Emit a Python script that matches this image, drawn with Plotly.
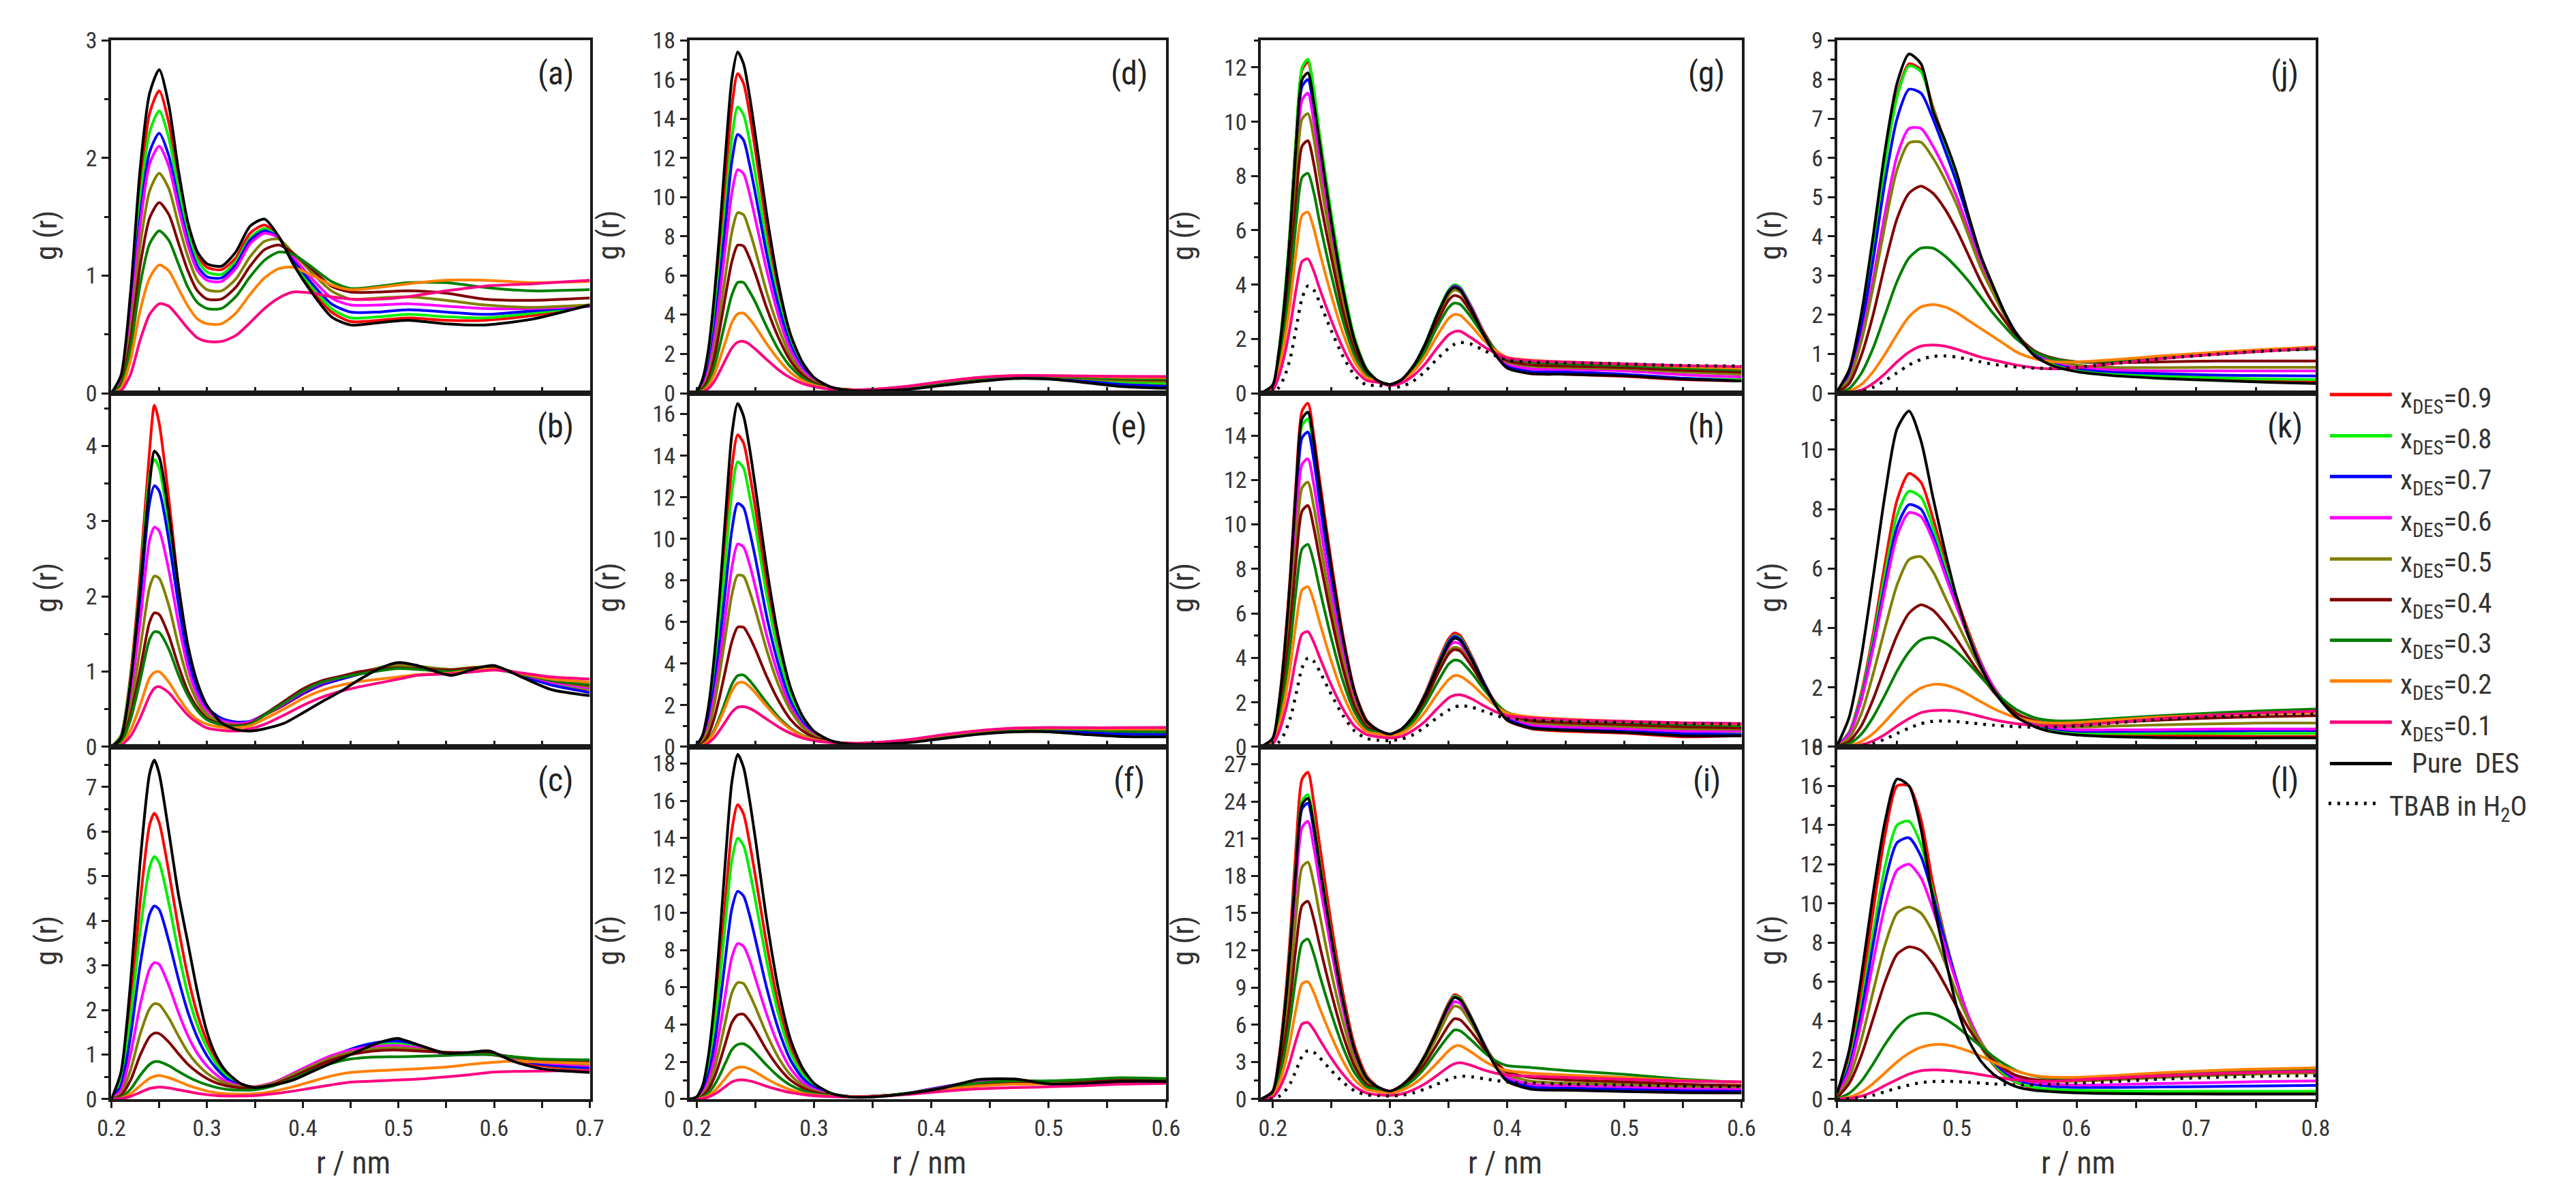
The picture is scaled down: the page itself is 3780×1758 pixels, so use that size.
import plotly.graph_objects as go

# ---------------- data ----------------
SERIES_NAMES = ["x<sub>DES</sub>=0.9", "x<sub>DES</sub>=0.8", "x<sub>DES</sub>=0.7",
                "x<sub>DES</sub>=0.6", "x<sub>DES</sub>=0.5", "x<sub>DES</sub>=0.4",
                "x<sub>DES</sub>=0.3", "x<sub>DES</sub>=0.2", "x<sub>DES</sub>=0.1",
                "Pure\u00a0 DES", "TBAB in H<sub>2</sub>O"]
SERIES_COLORS = ["#ff0000", "#00ee00", "#0000ff", "#ff00ff", "#808000", "#800000",
                 "#007f00", "#ff8000", "#ff0080", "#000000", "#000000"]

# panel (a)
R_A = [0.20, 0.21, 0.22, 0.23, 0.24, 0.25, 0.26, 0.27, 0.28, 0.29, 0.30, 0.315, 0.33, 0.345, 0.36,
       0.375, 0.39, 0.41, 0.43, 0.45, 0.48, 0.51, 0.55, 0.59, 0.64, 0.70]
A_09 = [0, 0.12, 0.75, 1.75, 2.38, 2.57, 2.3, 1.82, 1.42, 1.17, 1.07, 1.05, 1.15, 1.36, 1.43, 1.33, 1.1, 0.87, 0.69, 0.61, 0.62, 0.64, 0.62, 0.62, 0.66, 0.75]
A_08 = [0, 0.11, 0.7, 1.62, 2.22, 2.40, 2.17, 1.74, 1.37, 1.13, 1.03, 1.01, 1.12, 1.32, 1.40, 1.32, 1.12, 0.9, 0.72, 0.64, 0.65, 0.67, 0.65, 0.64, 0.68, 0.74]
A_07 = [0, 0.1, 0.65, 1.5, 2.05, 2.21, 2.02, 1.64, 1.3, 1.08, 0.99, 0.98, 1.09, 1.3, 1.38, 1.32, 1.14, 0.93, 0.76, 0.69, 0.69, 0.71, 0.69, 0.67, 0.7, 0.74]
A_06 = [0, 0.09, 0.6, 1.42, 1.95, 2.10, 1.93, 1.58, 1.26, 1.04, 0.96, 0.95, 1.06, 1.27, 1.36, 1.32, 1.16, 0.97, 0.81, 0.75, 0.75, 0.76, 0.74, 0.72, 0.72, 0.74]
A_05 = [0, 0.08, 0.52, 1.25, 1.72, 1.87, 1.74, 1.44, 1.16, 0.96, 0.88, 0.87, 0.97, 1.16, 1.29, 1.31, 1.19, 1.02, 0.87, 0.8, 0.81, 0.82, 0.79, 0.75, 0.73, 0.75]
A_04 = [0, 0.07, 0.45, 1.08, 1.49, 1.62, 1.52, 1.28, 1.04, 0.87, 0.80, 0.80, 0.9, 1.08, 1.22, 1.26, 1.19, 1.05, 0.91, 0.86, 0.86, 0.87, 0.85, 0.8, 0.79, 0.81]
A_03 = [0, 0.06, 0.38, 0.92, 1.27, 1.38, 1.3, 1.1, 0.9, 0.77, 0.72, 0.72, 0.82, 0.99, 1.13, 1.2, 1.18, 1.07, 0.95, 0.89, 0.91, 0.94, 0.94, 0.9, 0.87, 0.88]
A_02 = [0, 0.04, 0.28, 0.7, 0.98, 1.09, 1.04, 0.89, 0.74, 0.63, 0.59, 0.59, 0.68, 0.84, 0.98, 1.06, 1.07, 1.0, 0.92, 0.88, 0.9, 0.93, 0.96, 0.96, 0.94, 0.95]
A_01 = [0, 0.02, 0.16, 0.45, 0.67, 0.76, 0.74, 0.65, 0.55, 0.47, 0.44, 0.44, 0.49, 0.6, 0.72, 0.81, 0.86, 0.85, 0.82, 0.8, 0.8, 0.82, 0.87, 0.91, 0.93, 0.96]
A_PURE = [0, 0.15, 0.85, 1.9, 2.55, 2.75, 2.45, 1.9, 1.45, 1.2, 1.1, 1.08, 1.2, 1.42, 1.48, 1.33, 1.1, 0.85, 0.65, 0.58, 0.6, 0.62, 0.59, 0.58, 0.63, 0.75]

# panel (b)
R_B = [0.20, 0.21, 0.22, 0.23, 0.24, 0.245, 0.25, 0.26, 0.27, 0.28, 0.29, 0.30, 0.315, 0.33, 0.345,
       0.36, 0.38, 0.40, 0.42, 0.44, 0.46, 0.48, 0.50, 0.52, 0.555, 0.58, 0.60, 0.63, 0.66, 0.70]
B_09 = [0, 0.15, 0.95, 2.3, 3.95, 4.54, 4.3, 3.3, 2.15, 1.25, 0.75, 0.5, 0.36, 0.3, 0.32, 0.42, 0.55, 0.7, 0.82, 0.9, 0.97, 1.03, 1.07, 1.04, 0.99, 1.03, 1.05, 0.95, 0.84, 0.76]
B_08 = [0, 0.14, 0.9, 2.15, 3.6, 3.82, 3.7, 2.95, 2.0, 1.2, 0.74, 0.5, 0.36, 0.31, 0.33, 0.43, 0.57, 0.72, 0.84, 0.91, 0.98, 1.05, 1.1, 1.05, 0.99, 1.03, 1.04, 0.95, 0.85, 0.77]
B_07 = [0, 0.12, 0.8, 1.95, 3.25, 3.47, 3.4, 2.75, 1.9, 1.18, 0.75, 0.52, 0.38, 0.33, 0.34, 0.43, 0.56, 0.71, 0.83, 0.9, 0.97, 1.03, 1.07, 1.04, 0.99, 1.03, 1.05, 0.94, 0.82, 0.72]
B_06 = [0, 0.1, 0.68, 1.65, 2.75, 2.92, 2.87, 2.35, 1.65, 1.05, 0.68, 0.48, 0.35, 0.31, 0.33, 0.43, 0.57, 0.73, 0.85, 0.92, 0.99, 1.05, 1.1, 1.05, 1.0, 1.04, 1.05, 0.96, 0.86, 0.78]
B_05 = [0, 0.08, 0.53, 1.3, 2.12, 2.27, 2.24, 1.88, 1.35, 0.9, 0.6, 0.43, 0.32, 0.29, 0.31, 0.42, 0.58, 0.75, 0.87, 0.93, 0.99, 1.05, 1.08, 1.07, 1.03, 1.06, 1.05, 0.97, 0.88, 0.8]
B_04 = [0, 0.06, 0.42, 1.02, 1.66, 1.78, 1.76, 1.48, 1.08, 0.74, 0.52, 0.38, 0.3, 0.28, 0.31, 0.43, 0.6, 0.77, 0.88, 0.94, 1.0, 1.03, 1.05, 1.04, 1.02, 1.05, 1.04, 0.97, 0.88, 0.82]
B_03 = [0, 0.05, 0.36, 0.88, 1.43, 1.53, 1.52, 1.3, 0.96, 0.68, 0.48, 0.36, 0.29, 0.27, 0.3, 0.42, 0.58, 0.74, 0.86, 0.92, 0.97, 1.01, 1.04, 1.03, 1.0, 1.03, 1.03, 0.96, 0.88, 0.83]
B_02 = [0, 0.03, 0.22, 0.55, 0.92, 0.99, 1.0, 0.86, 0.66, 0.48, 0.36, 0.3, 0.26, 0.25, 0.28, 0.37, 0.5, 0.64, 0.75, 0.82, 0.87, 0.9, 0.93, 0.96, 0.98, 1.02, 1.03, 0.97, 0.9, 0.86]
B_01 = [0, 0.02, 0.14, 0.38, 0.68, 0.78, 0.8, 0.72, 0.57, 0.42, 0.32, 0.25, 0.22, 0.21, 0.24, 0.3, 0.42, 0.55, 0.66, 0.74, 0.8, 0.85, 0.9, 0.95, 0.97, 1.0, 1.02, 0.98, 0.93, 0.9]
B_PURE = [0, 0.12, 0.85, 2.1, 3.5, 3.93, 3.85, 3.1, 2.15, 1.35, 0.85, 0.55, 0.32, 0.23, 0.21, 0.24, 0.31, 0.45, 0.6, 0.74, 0.9, 1.04, 1.12, 1.08, 0.95, 1.04, 1.08, 0.92, 0.76, 0.68]

# panel (c)
R_C = [0.20, 0.21, 0.22, 0.23, 0.24, 0.245, 0.25, 0.26, 0.27, 0.28, 0.29, 0.30, 0.31, 0.32, 0.335,
       0.35, 0.37, 0.39, 0.41, 0.43, 0.45, 0.47, 0.49, 0.50, 0.52, 0.55, 0.575, 0.595, 0.62, 0.65, 0.70]
C_09 = [0, 0.45, 2.1, 4.4, 6.15, 6.41, 6.2, 5.1, 3.85, 2.75, 1.9, 1.3, 0.88, 0.58, 0.34, 0.27, 0.34, 0.5, 0.68, 0.88, 1.08, 1.2, 1.27, 1.28, 1.22, 1.02, 1.03, 1.03, 0.88, 0.75, 0.65]
C_08 = [0, 0.4, 1.8, 3.75, 5.2, 5.44, 5.3, 4.4, 3.3, 2.35, 1.65, 1.15, 0.78, 0.53, 0.32, 0.27, 0.35, 0.52, 0.7, 0.9, 1.1, 1.2, 1.25, 1.25, 1.2, 1.02, 1.02, 1.02, 0.9, 0.78, 0.68]
C_07 = [0, 0.3, 1.4, 3.0, 4.15, 4.33, 4.25, 3.55, 2.7, 1.95, 1.38, 0.97, 0.68, 0.47, 0.3, 0.27, 0.36, 0.55, 0.75, 0.95, 1.12, 1.24, 1.3, 1.3, 1.22, 1.0, 1.03, 1.05, 0.9, 0.78, 0.7]
C_06 = [0, 0.2, 1.0, 2.1, 2.92, 3.06, 3.02, 2.55, 1.95, 1.42, 1.02, 0.74, 0.54, 0.4, 0.3, 0.28, 0.38, 0.58, 0.79, 0.98, 1.1, 1.17, 1.2, 1.2, 1.15, 1.02, 1.0, 1.0, 0.92, 0.82, 0.75]
C_05 = [0, 0.12, 0.65, 1.45, 2.03, 2.14, 2.12, 1.82, 1.42, 1.05, 0.78, 0.58, 0.44, 0.35, 0.28, 0.27, 0.36, 0.55, 0.75, 0.93, 1.05, 1.12, 1.15, 1.15, 1.12, 1.05, 1.02, 1.0, 0.93, 0.85, 0.78]
C_04 = [0, 0.08, 0.42, 0.98, 1.4, 1.48, 1.47, 1.28, 1.02, 0.78, 0.6, 0.46, 0.36, 0.3, 0.25, 0.25, 0.33, 0.5, 0.7, 0.88, 1.0, 1.07, 1.1, 1.1, 1.08, 1.05, 1.04, 1.02, 0.95, 0.88, 0.85]
C_03 = [0, 0.04, 0.22, 0.53, 0.78, 0.84, 0.84, 0.75, 0.62, 0.5, 0.4, 0.32, 0.26, 0.22, 0.2, 0.21, 0.3, 0.46, 0.64, 0.8, 0.9, 0.94, 0.95, 0.95, 0.96, 0.98, 1.0, 1.0, 0.95, 0.9, 0.88]
C_02 = [0, 0.02, 0.12, 0.3, 0.47, 0.51, 0.53, 0.48, 0.4, 0.31, 0.24, 0.18, 0.14, 0.12, 0.11, 0.12, 0.18, 0.28, 0.4, 0.52, 0.6, 0.63, 0.65, 0.66, 0.68, 0.72, 0.78, 0.82, 0.85, 0.83, 0.8]
C_01 = [0, 0.01, 0.06, 0.15, 0.24, 0.26, 0.27, 0.25, 0.21, 0.17, 0.13, 0.1, 0.08, 0.07, 0.07, 0.08, 0.12, 0.18, 0.25, 0.32, 0.38, 0.4, 0.42, 0.43, 0.45, 0.5, 0.55, 0.6, 0.62, 0.63, 0.65]
C_PURE = [0, 0.6, 2.6, 5.3, 7.3, 7.6, 7.3, 6.0, 4.6, 3.5, 2.4, 1.5, 0.95, 0.62, 0.35, 0.26, 0.32, 0.43, 0.62, 0.81, 1.0, 1.19, 1.33, 1.36, 1.22, 1.03, 1.05, 1.08, 0.85, 0.68, 0.6]

# panels (d), (e), (f) share one r grid
R_DEF = [0.194, 0.20, 0.205, 0.21, 0.215, 0.22, 0.225, 0.23, 0.235, 0.24, 0.245, 0.25, 0.26, 0.27,
         0.28, 0.29, 0.30, 0.315, 0.33, 0.35, 0.38, 0.41, 0.44, 0.47, 0.50, 0.53, 0.56, 0.60]
D_09 = [0, 0.08, 0.5, 1.7, 4.0, 7.3, 11.0, 14.6, 16.3, 15.8, 14.3, 12.4, 8.4, 5.1, 2.8, 1.5, 0.75, 0.3, 0.15, 0.13, 0.22, 0.45, 0.65, 0.8, 0.78, 0.66, 0.52, 0.45]
D_08 = [0, 0.07, 0.45, 1.5, 3.6, 6.5, 9.8, 13.0, 14.6, 14.2, 12.9, 11.2, 7.6, 4.7, 2.6, 1.4, 0.72, 0.3, 0.16, 0.14, 0.24, 0.48, 0.68, 0.82, 0.8, 0.7, 0.58, 0.5]
D_07 = [0, 0.06, 0.4, 1.35, 3.2, 5.9, 8.9, 11.8, 13.2, 12.9, 11.7, 10.2, 7.0, 4.4, 2.45, 1.3, 0.68, 0.3, 0.16, 0.14, 0.24, 0.47, 0.66, 0.78, 0.76, 0.62, 0.45, 0.35]
D_06 = [0, 0.05, 0.33, 1.15, 2.75, 5.1, 7.7, 10.2, 11.4, 11.2, 10.2, 8.9, 6.2, 3.9, 2.2, 1.2, 0.65, 0.3, 0.18, 0.16, 0.28, 0.52, 0.72, 0.85, 0.85, 0.8, 0.78, 0.8]
D_05 = [0, 0.04, 0.27, 0.92, 2.2, 4.1, 6.2, 8.2, 9.2, 9.1, 8.3, 7.3, 5.1, 3.3, 1.9, 1.05, 0.58, 0.28, 0.18, 0.16, 0.28, 0.52, 0.72, 0.84, 0.84, 0.75, 0.65, 0.6]
D_04 = [0, 0.03, 0.22, 0.75, 1.8, 3.35, 5.1, 6.7, 7.55, 7.5, 6.9, 6.1, 4.3, 2.8, 1.65, 0.95, 0.53, 0.27, 0.18, 0.17, 0.3, 0.55, 0.75, 0.86, 0.86, 0.8, 0.72, 0.68]
D_03 = [0, 0.02, 0.16, 0.55, 1.35, 2.5, 3.8, 5.0, 5.65, 5.65, 5.2, 4.65, 3.35, 2.2, 1.35, 0.8, 0.47, 0.25, 0.18, 0.18, 0.3, 0.55, 0.74, 0.86, 0.86, 0.8, 0.74, 0.72]
D_02 = [0, 0.01, 0.1, 0.38, 0.95, 1.8, 2.7, 3.6, 4.05, 4.08, 3.8, 3.4, 2.5, 1.7, 1.05, 0.65, 0.4, 0.23, 0.18, 0.2, 0.35, 0.6, 0.8, 0.9, 0.9, 0.86, 0.82, 0.8]
D_01 = [0, 0.01, 0.06, 0.24, 0.6, 1.15, 1.75, 2.3, 2.6, 2.64, 2.5, 2.25, 1.7, 1.18, 0.78, 0.5, 0.33, 0.2, 0.17, 0.2, 0.36, 0.6, 0.8, 0.9, 0.9, 0.88, 0.86, 0.85]
D_PURE = [0, 0.1, 0.7, 2.2, 4.9, 8.5, 12.5, 16.0, 17.4, 16.8, 15.2, 13.2, 9.0, 5.5, 3.0, 1.6, 0.8, 0.3, 0.14, 0.12, 0.2, 0.4, 0.6, 0.75, 0.72, 0.55, 0.35, 0.25]

E_09 = [0, 0.08, 0.48, 1.65, 3.75, 6.7, 10.1, 13.4, 15.0, 14.6, 13.2, 11.5, 7.8, 4.8, 2.65, 1.4, 0.72, 0.28, 0.14, 0.13, 0.24, 0.46, 0.66, 0.8, 0.82, 0.75, 0.68, 0.65]
E_08 = [0, 0.07, 0.43, 1.5, 3.4, 6.1, 9.2, 12.2, 13.7, 13.4, 12.1, 10.6, 7.2, 4.45, 2.5, 1.33, 0.7, 0.28, 0.15, 0.14, 0.25, 0.48, 0.68, 0.82, 0.84, 0.77, 0.7, 0.68]
E_07 = [0, 0.06, 0.36, 1.25, 2.9, 5.2, 7.8, 10.4, 11.7, 11.5, 10.4, 9.1, 6.2, 3.9, 2.2, 1.2, 0.65, 0.28, 0.15, 0.14, 0.25, 0.48, 0.68, 0.8, 0.8, 0.7, 0.62, 0.6]
E_06 = [0, 0.05, 0.29, 1.0, 2.4, 4.3, 6.5, 8.6, 9.75, 9.6, 8.8, 7.7, 5.3, 3.4, 1.95, 1.08, 0.6, 0.27, 0.16, 0.15, 0.27, 0.5, 0.7, 0.84, 0.86, 0.82, 0.8, 0.8]
E_05 = [0, 0.04, 0.25, 0.85, 2.0, 3.65, 5.5, 7.3, 8.25, 8.2, 7.5, 6.6, 4.6, 2.95, 1.75, 0.98, 0.55, 0.26, 0.16, 0.16, 0.28, 0.52, 0.72, 0.86, 0.88, 0.84, 0.82, 0.8]
E_04 = [0, 0.03, 0.16, 0.57, 1.37, 2.5, 3.8, 5.05, 5.75, 5.75, 5.3, 4.7, 3.35, 2.2, 1.32, 0.78, 0.46, 0.24, 0.17, 0.17, 0.3, 0.53, 0.73, 0.86, 0.88, 0.85, 0.82, 0.8]
E_03 = [0, 0.02, 0.1, 0.34, 0.8, 1.48, 2.25, 3.0, 3.42, 3.45, 3.2, 2.85, 2.1, 1.42, 0.9, 0.56, 0.36, 0.21, 0.17, 0.18, 0.3, 0.52, 0.72, 0.84, 0.86, 0.82, 0.75, 0.72]
E_02 = [0, 0.01, 0.08, 0.3, 0.72, 1.32, 2.0, 2.68, 3.07, 3.1, 2.9, 2.6, 1.93, 1.32, 0.85, 0.54, 0.35, 0.21, 0.17, 0.19, 0.32, 0.56, 0.76, 0.88, 0.9, 0.88, 0.86, 0.85]
E_01 = [0, 0.01, 0.05, 0.18, 0.44, 0.82, 1.25, 1.66, 1.9, 1.93, 1.85, 1.7, 1.32, 0.95, 0.65, 0.43, 0.3, 0.2, 0.17, 0.2, 0.34, 0.58, 0.78, 0.9, 0.93, 0.92, 0.92, 0.93]
E_PURE = [0, 0.1, 0.55, 1.9, 4.3, 7.6, 11.4, 15.0, 16.5, 15.9, 14.4, 12.5, 8.5, 5.2, 2.85, 1.5, 0.75, 0.28, 0.13, 0.12, 0.2, 0.4, 0.6, 0.72, 0.72, 0.6, 0.5, 0.48]

F_09 = [0, 0.1, 0.55, 1.85, 4.1, 7.3, 11.0, 14.4, 15.8, 15.3, 13.8, 12.0, 8.2, 5.0, 2.8, 1.5, 0.78, 0.3, 0.13, 0.13, 0.3, 0.65, 0.95, 1.05, 0.9, 0.95, 1.05, 1.0]
F_08 = [0, 0.09, 0.5, 1.65, 3.65, 6.5, 9.8, 12.8, 14.0, 13.6, 12.3, 10.7, 7.3, 4.5, 2.5, 1.35, 0.72, 0.3, 0.14, 0.14, 0.32, 0.66, 0.95, 1.03, 0.92, 0.98, 1.1, 1.05]
F_07 = [0, 0.07, 0.4, 1.3, 2.9, 5.15, 7.8, 10.2, 11.15, 10.9, 9.9, 8.6, 5.9, 3.7, 2.1, 1.15, 0.63, 0.28, 0.14, 0.14, 0.32, 0.66, 0.95, 1.02, 0.9, 0.95, 1.05, 1.0]
F_06 = [0, 0.05, 0.3, 0.98, 2.15, 3.85, 5.8, 7.6, 8.35, 8.2, 7.5, 6.5, 4.5, 2.85, 1.65, 0.92, 0.52, 0.25, 0.14, 0.15, 0.32, 0.64, 0.92, 1.0, 0.9, 0.95, 1.05, 1.0]
F_05 = [0, 0.04, 0.22, 0.72, 1.6, 2.85, 4.3, 5.7, 6.25, 6.2, 5.65, 4.95, 3.45, 2.2, 1.3, 0.75, 0.44, 0.23, 0.14, 0.15, 0.3, 0.6, 0.86, 0.95, 0.88, 0.92, 1.02, 1.0]
F_04 = [0, 0.03, 0.16, 0.52, 1.15, 2.05, 3.1, 4.1, 4.52, 4.55, 4.2, 3.7, 2.6, 1.7, 1.02, 0.62, 0.38, 0.21, 0.14, 0.15, 0.3, 0.58, 0.82, 0.92, 0.88, 0.92, 1.02, 1.0]
F_03 = [0, 0.02, 0.1, 0.33, 0.74, 1.32, 2.0, 2.65, 2.93, 2.97, 2.78, 2.48, 1.8, 1.2, 0.75, 0.47, 0.3, 0.18, 0.14, 0.16, 0.32, 0.6, 0.86, 0.98, 0.98, 1.05, 1.15, 1.1]
F_02 = [0, 0.01, 0.06, 0.19, 0.43, 0.77, 1.16, 1.53, 1.7, 1.72, 1.62, 1.46, 1.08, 0.75, 0.5, 0.33, 0.23, 0.15, 0.13, 0.15, 0.28, 0.5, 0.7, 0.8, 0.82, 0.86, 0.9, 0.9]
F_01 = [0, 0.0, 0.03, 0.11, 0.26, 0.46, 0.7, 0.92, 1.02, 1.03, 0.98, 0.9, 0.68, 0.5, 0.35, 0.25, 0.18, 0.13, 0.12, 0.14, 0.25, 0.42, 0.55, 0.62, 0.66, 0.72, 0.8, 0.85]
F_PURE = [0, 0.12, 0.7, 2.3, 5.1, 8.9, 13.2, 17.0, 18.5, 17.8, 16.1, 14.0, 9.5, 5.8, 3.2, 1.7, 0.85, 0.3, 0.12, 0.12, 0.3, 0.6, 1.05, 1.08, 0.82, 0.85, 0.95, 0.95]

# panels (g), (h), (i) share one r grid
R_GHI = [0.19, 0.20, 0.205, 0.21, 0.215, 0.22, 0.225, 0.23, 0.235, 0.24, 0.25, 0.26, 0.27, 0.28,
         0.29, 0.30, 0.31, 0.32, 0.33, 0.34, 0.35, 0.355, 0.36, 0.37, 0.38, 0.39, 0.40, 0.42, 0.45, 0.50, 0.55, 0.60]
G_09 = [0, 0.3, 1.5, 3.4, 6.2, 9.5, 11.9, 12.2, 11.1, 9.5, 6.5, 3.9, 2.0, 0.9, 0.45, 0.32, 0.5, 1.0, 1.8, 2.85, 3.75, 3.95, 3.85, 3.1, 2.2, 1.45, 0.95, 0.72, 0.7, 0.62, 0.5, 0.45]
G_08 = [0, 0.3, 1.5, 3.5, 6.2, 9.5, 12.0, 12.3, 11.2, 9.5, 6.6, 4.0, 2.0, 0.9, 0.45, 0.32, 0.5, 1.0, 1.82, 2.9, 3.8, 4.0, 3.9, 3.15, 2.25, 1.5, 1.0, 0.76, 0.73, 0.66, 0.55, 0.5]
G_07 = [0, 0.29, 1.4, 3.3, 5.8, 9.0, 11.3, 11.55, 10.5, 9.0, 6.2, 3.7, 1.9, 0.85, 0.45, 0.32, 0.5, 1.0, 1.8, 2.85, 3.75, 3.95, 3.85, 3.12, 2.25, 1.5, 1.02, 0.8, 0.78, 0.7, 0.55, 0.45]
G_06 = [0, 0.28, 1.34, 3.1, 5.6, 8.6, 10.8, 11.05, 10.0, 8.6, 5.9, 3.6, 1.8, 0.82, 0.45, 0.32, 0.5, 1.0, 1.78, 2.82, 3.72, 3.92, 3.82, 3.12, 2.28, 1.55, 1.1, 0.9, 0.88, 0.82, 0.68, 0.6]
G_05 = [0, 0.26, 1.25, 2.9, 5.2, 8.0, 10.1, 10.3, 9.4, 8.0, 5.5, 3.3, 1.7, 0.78, 0.45, 0.32, 0.5, 0.98, 1.74, 2.74, 3.6, 3.8, 3.72, 3.05, 2.25, 1.58, 1.15, 1.0, 0.95, 0.9, 0.78, 0.7]
G_04 = [0, 0.23, 1.13, 2.6, 4.7, 7.2, 9.1, 9.3, 8.45, 7.2, 5.0, 3.0, 1.55, 0.72, 0.45, 0.32, 0.48, 0.95, 1.66, 2.6, 3.42, 3.6, 3.53, 2.92, 2.2, 1.58, 1.2, 1.05, 1.0, 0.95, 0.85, 0.78]
G_03 = [0, 0.2, 1.0, 2.3, 4.1, 6.3, 7.95, 8.1, 7.4, 6.3, 4.35, 2.65, 1.38, 0.66, 0.45, 0.32, 0.47, 0.9, 1.55, 2.42, 3.15, 3.32, 3.27, 2.75, 2.12, 1.6, 1.28, 1.15, 1.08, 1.02, 0.92, 0.85]
G_02 = [0, 0.17, 0.8, 1.9, 3.4, 5.2, 6.55, 6.67, 6.07, 5.2, 3.6, 2.2, 1.15, 0.58, 0.42, 0.3, 0.42, 0.8, 1.36, 2.1, 2.75, 2.9, 2.87, 2.45, 1.95, 1.58, 1.32, 1.22, 1.15, 1.08, 0.98, 0.92]
G_01 = [0, 0.12, 0.6, 1.4, 2.5, 3.85, 4.85, 4.95, 4.5, 3.85, 2.68, 1.65, 0.88, 0.47, 0.4, 0.28, 0.38, 0.65, 1.08, 1.65, 2.15, 2.27, 2.28, 2.02, 1.72, 1.48, 1.3, 1.2, 1.15, 1.08, 1.02, 0.98]
G_PURE = [0, 0.3, 1.43, 3.3, 5.95, 9.2, 11.55, 11.8, 10.7, 9.2, 6.3, 3.8, 1.9, 0.85, 0.45, 0.32, 0.5, 1.0, 1.8, 2.85, 3.72, 3.9, 3.8, 3.05, 2.15, 1.42, 0.93, 0.72, 0.7, 0.64, 0.52, 0.45]
G_TBAB = [0, 0.03, 0.2, 0.6, 1.3, 2.4, 3.5, 3.95, 3.8, 3.35, 2.3, 1.35, 0.65, 0.3, 0.3, 0.2, 0.25, 0.45, 0.8, 1.25, 1.65, 1.8, 1.87, 1.8, 1.58, 1.38, 1.22, 1.15, 1.12, 1.08, 1.02, 1.0]

H_09 = [0, 0.39, 1.87, 4.37, 7.8, 12.0, 15.1, 15.45, 14.0, 12.0, 8.3, 5.0, 2.5, 1.2, 0.75, 0.57, 0.8, 1.4, 2.4, 3.7, 4.85, 5.12, 5.0, 4.05, 2.9, 1.9, 1.2, 0.82, 0.7, 0.62, 0.45, 0.5]
H_08 = [0, 0.37, 1.79, 4.17, 7.45, 11.5, 14.45, 14.75, 13.4, 11.5, 7.9, 4.8, 2.4, 1.15, 0.75, 0.57, 0.8, 1.4, 2.35, 3.6, 4.75, 5.0, 4.9, 3.98, 2.9, 1.92, 1.25, 0.85, 0.75, 0.68, 0.58, 0.58]
H_07 = [0, 0.36, 1.72, 4.0, 7.15, 11.0, 13.9, 14.15, 12.9, 11.0, 7.6, 4.6, 2.3, 1.1, 0.75, 0.57, 0.8, 1.38, 2.32, 3.55, 4.7, 4.96, 4.85, 3.95, 2.9, 1.95, 1.3, 0.9, 0.8, 0.72, 0.6, 0.55]
H_06 = [0, 0.33, 1.57, 3.67, 6.55, 10.1, 12.7, 12.95, 11.8, 10.1, 6.95, 4.2, 2.1, 1.0, 0.75, 0.57, 0.78, 1.35, 2.25, 3.42, 4.48, 4.7, 4.62, 3.8, 2.85, 1.98, 1.4, 1.0, 0.9, 0.82, 0.72, 0.7]
H_05 = [0, 0.3, 1.44, 3.36, 6.0, 9.25, 11.65, 11.9, 10.8, 9.25, 6.35, 3.85, 1.95, 0.95, 0.72, 0.57, 0.76, 1.3, 2.15, 3.28, 4.28, 4.48, 4.4, 3.65, 2.78, 1.98, 1.45, 1.1, 1.0, 0.92, 0.82, 0.8]
H_04 = [0, 0.27, 1.32, 3.07, 5.48, 8.45, 10.6, 10.85, 9.85, 8.45, 5.8, 3.5, 1.8, 0.9, 0.7, 0.57, 0.75, 1.28, 2.1, 3.2, 4.17, 4.37, 4.3, 3.6, 2.76, 2.0, 1.5, 1.18, 1.08, 1.0, 0.9, 0.85]
H_03 = [0, 0.23, 1.1, 2.58, 4.6, 7.1, 8.9, 9.1, 8.3, 7.1, 4.88, 2.95, 1.55, 0.8, 0.65, 0.55, 0.7, 1.15, 1.9, 2.85, 3.72, 3.9, 3.85, 3.3, 2.6, 1.98, 1.55, 1.3, 1.2, 1.1, 1.0, 0.95]
H_02 = [0, 0.18, 0.87, 2.04, 3.63, 5.6, 7.05, 7.2, 6.55, 5.6, 3.85, 2.35, 1.25, 0.68, 0.58, 0.5, 0.62, 0.98, 1.58, 2.35, 3.02, 3.2, 3.17, 2.8, 2.3, 1.85, 1.52, 1.35, 1.25, 1.15, 1.07, 1.02]
H_01 = [0, 0.13, 0.63, 1.46, 2.6, 4.03, 5.07, 5.18, 4.7, 4.03, 2.77, 1.7, 0.92, 0.55, 0.45, 0.4, 0.48, 0.75, 1.15, 1.7, 2.2, 2.32, 2.34, 2.15, 1.85, 1.58, 1.4, 1.3, 1.22, 1.15, 1.08, 1.05]
H_PURE = [0, 0.38, 1.82, 4.26, 7.6, 11.7, 14.75, 15.05, 13.7, 11.7, 8.05, 4.85, 2.45, 1.15, 0.75, 0.57, 0.8, 1.38, 2.3, 3.5, 4.6, 4.88, 4.78, 3.9, 2.85, 1.88, 1.2, 0.85, 0.75, 0.65, 0.5, 0.5]
H_TBAB = [0, 0.03, 0.2, 0.6, 1.3, 2.4, 3.55, 4.0, 3.85, 3.4, 2.35, 1.4, 0.7, 0.38, 0.3, 0.28, 0.35, 0.55, 0.9, 1.3, 1.65, 1.78, 1.85, 1.78, 1.6, 1.42, 1.28, 1.2, 1.15, 1.1, 1.05, 1.02]

I_09 = [0, 0.67, 3.2, 7.45, 13.3, 20.5, 25.8, 26.35, 23.9, 20.5, 14.1, 8.5, 4.25, 1.9, 0.95, 0.64, 1.1, 2.1, 3.6, 5.6, 7.75, 8.42, 8.2, 6.5, 4.5, 2.7, 1.5, 0.85, 0.75, 0.65, 0.55, 0.53]
I_08 = [0, 0.62, 2.98, 6.95, 12.4, 19.1, 24.05, 24.55, 22.3, 19.1, 13.15, 7.95, 3.97, 1.75, 0.95, 0.64, 1.1, 2.05, 3.55, 5.5, 7.65, 8.3, 8.1, 6.45, 4.5, 2.75, 1.55, 0.9, 0.8, 0.7, 0.6, 0.58]
I_07 = [0, 0.6, 2.9, 6.75, 12.05, 18.55, 23.4, 23.85, 21.7, 18.55, 12.8, 7.7, 3.85, 1.7, 0.95, 0.64, 1.1, 2.0, 3.5, 5.45, 7.55, 8.2, 8.0, 6.4, 4.5, 2.8, 1.6, 1.0, 0.9, 0.8, 0.7, 0.65]
I_06 = [0, 0.57, 2.7, 6.33, 11.3, 17.4, 21.9, 22.4, 20.3, 17.4, 12.0, 7.23, 3.62, 1.6, 0.95, 0.64, 1.08, 1.95, 3.4, 5.25, 7.25, 7.85, 7.7, 6.2, 4.45, 2.9, 1.8, 1.2, 1.1, 1.0, 0.9, 0.85]
I_05 = [0, 0.48, 2.3, 5.4, 9.65, 14.9, 18.7, 19.1, 17.4, 14.9, 10.2, 6.2, 3.1, 1.4, 0.92, 0.64, 1.05, 1.88, 3.25, 5.0, 6.9, 7.5, 7.35, 6.0, 4.4, 3.0, 2.0, 1.45, 1.3, 1.2, 1.05, 1.0]
I_04 = [0, 0.4, 1.93, 4.5, 8.05, 12.4, 15.6, 15.95, 14.5, 12.4, 8.55, 5.15, 2.6, 1.2, 0.88, 0.64, 1.0, 1.72, 2.9, 4.4, 5.95, 6.48, 6.38, 5.35, 4.1, 3.0, 2.2, 1.75, 1.55, 1.4, 1.2, 1.1]
I_03 = [0, 0.33, 1.56, 3.64, 6.5, 10.0, 12.6, 12.9, 11.7, 10.0, 6.9, 4.16, 2.1, 1.0, 0.8, 0.62, 0.92, 1.55, 2.55, 3.85, 5.1, 5.57, 5.5, 4.7, 3.8, 3.1, 2.7, 2.55, 2.3, 2.0, 1.6, 1.35]
I_02 = [0, 0.24, 1.15, 2.68, 4.8, 7.35, 9.3, 9.47, 8.6, 7.35, 5.07, 3.06, 1.55, 0.78, 0.6, 0.5, 0.72, 1.2, 1.95, 2.9, 3.9, 4.25, 4.3, 3.75, 3.1, 2.6, 2.3, 2.1, 1.95, 1.75, 1.5, 1.35]
I_01 = [0, 0.16, 0.75, 1.75, 3.12, 4.8, 6.05, 6.18, 5.6, 4.8, 3.3, 2.0, 1.0, 0.5, 0.35, 0.3, 0.42, 0.75, 1.25, 1.9, 2.6, 2.85, 2.93, 2.7, 2.35, 2.1, 1.95, 1.85, 1.75, 1.6, 1.45, 1.4]
I_PURE = [0, 0.61, 2.94, 6.86, 12.25, 18.85, 23.75, 24.25, 22.05, 18.85, 13.0, 7.85, 3.92, 1.72, 0.95, 0.64, 1.1, 2.0, 3.5, 5.45, 7.55, 8.2, 8.0, 6.35, 4.4, 2.65, 1.45, 0.8, 0.72, 0.62, 0.52, 0.5]
I_TBAB = [0, 0.03, 0.2, 0.6, 1.28, 2.35, 3.45, 3.92, 3.78, 3.35, 2.3, 1.35, 0.66, 0.35, 0.28, 0.25, 0.32, 0.5, 0.82, 1.2, 1.6, 1.75, 1.85, 1.8, 1.65, 1.5, 1.38, 1.3, 1.2, 1.12, 1.05, 1.02]

# panels (j), (k), (l) share one r grid
R_JKL = [0.40, 0.41, 0.42, 0.43, 0.44, 0.45, 0.46, 0.47, 0.48, 0.49, 0.50, 0.51, 0.52, 0.53, 0.54,
         0.55, 0.565, 0.58, 0.60, 0.63, 0.67, 0.72, 0.76, 0.80]
J_09 = [0.04, 0.5, 1.8, 3.7, 5.9, 7.6, 8.4, 8.25, 7.3, 6.4, 5.5, 4.5, 3.5, 2.75, 2.05, 1.5, 1.0, 0.75, 0.58, 0.48, 0.42, 0.36, 0.33, 0.31]
J_08 = [0.04, 0.5, 1.8, 3.7, 5.85, 7.55, 8.35, 8.2, 7.25, 6.35, 5.45, 4.45, 3.5, 2.75, 2.05, 1.52, 1.02, 0.78, 0.6, 0.5, 0.44, 0.39, 0.36, 0.35]
J_07 = [0.04, 0.45, 1.65, 3.4, 5.4, 7.0, 7.75, 7.65, 7.0, 6.2, 5.35, 4.4, 3.45, 2.72, 2.05, 1.52, 1.03, 0.8, 0.64, 0.55, 0.5, 0.46, 0.45, 0.44]
J_06 = [0.03, 0.38, 1.4, 2.9, 4.6, 6.05, 6.75, 6.75, 6.3, 5.7, 5.0, 4.15, 3.3, 2.62, 2.0, 1.5, 1.05, 0.83, 0.68, 0.6, 0.57, 0.57, 0.57, 0.57]
J_05 = [0.03, 0.35, 1.3, 2.7, 4.3, 5.7, 6.38, 6.4, 6.0, 5.45, 4.8, 4.0, 3.2, 2.57, 1.98, 1.5, 1.07, 0.86, 0.72, 0.66, 0.65, 0.66, 0.66, 0.66]
J_04 = [0.02, 0.25, 0.95, 2.0, 3.3, 4.45, 5.1, 5.28, 5.1, 4.7, 4.15, 3.5, 2.85, 2.3, 1.85, 1.45, 1.08, 0.9, 0.8, 0.78, 0.8, 0.82, 0.82, 0.82]
J_03 = [0.01, 0.12, 0.5, 1.15, 2.0, 2.85, 3.45, 3.7, 3.7, 3.5, 3.2, 2.85, 2.45, 2.05, 1.7, 1.38, 1.05, 0.88, 0.8, 0.82, 0.9, 1.0, 1.08, 1.13]
J_02 = [0.0, 0.05, 0.22, 0.55, 1.0, 1.5, 1.95, 2.2, 2.26, 2.2, 2.05, 1.85, 1.65, 1.45, 1.25, 1.05, 0.88, 0.8, 0.8, 0.85, 0.95, 1.05, 1.12, 1.18]
J_01 = [0.0, 0.02, 0.08, 0.25, 0.5, 0.8, 1.05, 1.2, 1.23, 1.2, 1.12, 1.02, 0.92, 0.85, 0.78, 0.72, 0.65, 0.62, 0.65, 0.75, 0.88, 1.0, 1.08, 1.15]
J_PURE = [0.05, 0.6, 2.0, 4.0, 6.2, 7.9, 8.65, 8.4, 7.2, 6.45, 5.6, 4.5, 3.5, 2.75, 2.05, 1.5, 0.95, 0.7, 0.55, 0.45, 0.38, 0.32, 0.28, 0.25]
J_TBAB = [0.0, 0.01, 0.05, 0.15, 0.32, 0.52, 0.72, 0.86, 0.94, 0.95, 0.92, 0.86, 0.8, 0.74, 0.7, 0.67, 0.64, 0.63, 0.66, 0.75, 0.88, 1.0, 1.08, 1.13]

K_09 = [0.03, 0.5, 1.8, 3.8, 6.2, 8.3, 9.2, 8.9, 7.7, 6.3, 5.0, 3.85, 2.85, 2.05, 1.48, 1.05, 0.72, 0.55, 0.45, 0.4, 0.37, 0.36, 0.35, 0.35]
K_08 = [0.03, 0.48, 1.7, 3.6, 5.85, 7.8, 8.6, 8.4, 7.4, 6.1, 4.85, 3.75, 2.8, 2.05, 1.5, 1.08, 0.75, 0.58, 0.48, 0.45, 0.45, 0.45, 0.45, 0.45]
K_07 = [0.03, 0.45, 1.6, 3.4, 5.5, 7.4, 8.15, 8.0, 7.1, 5.9, 4.75, 3.7, 2.78, 2.05, 1.5, 1.1, 0.78, 0.62, 0.53, 0.52, 0.53, 0.54, 0.55, 0.55]
K_06 = [0.03, 0.43, 1.55, 3.3, 5.3, 7.1, 7.88, 7.75, 6.95, 5.8, 4.7, 3.68, 2.78, 2.06, 1.52, 1.12, 0.8, 0.65, 0.57, 0.57, 0.58, 0.6, 0.6, 0.6]
K_05 = [0.02, 0.3, 1.1, 2.45, 4.0, 5.45, 6.3, 6.4, 5.9, 5.05, 4.2, 3.38, 2.62, 1.98, 1.5, 1.13, 0.84, 0.72, 0.67, 0.7, 0.74, 0.78, 0.8, 0.8]
K_04 = [0.01, 0.18, 0.7, 1.6, 2.7, 3.75, 4.5, 4.78, 4.6, 4.15, 3.6, 3.0, 2.42, 1.88, 1.45, 1.12, 0.88, 0.78, 0.76, 0.82, 0.9, 0.98, 1.02, 1.05]
K_03 = [0.01, 0.1, 0.42, 1.0, 1.75, 2.55, 3.2, 3.6, 3.68, 3.5, 3.2, 2.8, 2.35, 1.92, 1.55, 1.25, 0.98, 0.88, 0.88, 0.95, 1.05, 1.15, 1.22, 1.27]
K_02 = [0.0, 0.04, 0.18, 0.45, 0.85, 1.3, 1.7, 1.98, 2.1, 2.08, 1.95, 1.75, 1.52, 1.3, 1.12, 0.98, 0.85, 0.8, 0.82, 0.9, 1.0, 1.08, 1.12, 1.15]
K_01 = [0.0, 0.02, 0.07, 0.2, 0.42, 0.7, 0.95, 1.15, 1.22, 1.23, 1.2, 1.12, 1.02, 0.92, 0.84, 0.78, 0.72, 0.7, 0.72, 0.82, 0.95, 1.08, 1.15, 1.2]
K_PURE = [0.05, 1.0, 3.0, 5.7, 8.5, 10.7, 11.3, 10.3, 8.4, 6.6, 5.0, 3.7, 2.7, 1.95, 1.4, 1.0, 0.68, 0.5, 0.4, 0.34, 0.31, 0.3, 0.3, 0.3]
K_TBAB = [0.0, 0.01, 0.04, 0.12, 0.26, 0.45, 0.63, 0.78, 0.86, 0.87, 0.85, 0.81, 0.77, 0.73, 0.7, 0.68, 0.66, 0.66, 0.7, 0.8, 0.92, 1.02, 1.08, 1.1]

L_09 = [0.2, 2.0, 5.4, 9.6, 13.5, 16.0, 16.0, 14.3, 11.0, 8.3, 6.0, 4.0, 2.7, 1.8, 1.2, 0.84, 0.55, 0.42, 0.35, 0.32, 0.32, 0.33, 0.33, 0.33]
L_08 = [0.18, 1.8, 4.8, 8.5, 11.9, 14.0, 14.2, 13.0, 10.6, 8.2, 6.0, 4.05, 2.75, 1.85, 1.25, 0.86, 0.6, 0.5, 0.45, 0.42, 0.4, 0.4, 0.4, 0.4]
L_07 = [0.16, 1.65, 4.4, 7.9, 11.1, 13.1, 13.35, 12.4, 10.4, 8.1, 6.0, 4.15, 2.85, 1.95, 1.38, 1.0, 0.75, 0.65, 0.6, 0.6, 0.62, 0.65, 0.68, 0.7]
L_06 = [0.14, 1.45, 3.9, 7.0, 9.9, 11.7, 12.0, 11.3, 9.7, 7.8, 5.9, 4.2, 2.95, 2.05, 1.48, 1.1, 0.85, 0.76, 0.72, 0.74, 0.8, 0.85, 0.9, 0.93]
L_05 = [0.1, 1.1, 3.0, 5.5, 7.9, 9.5, 9.82, 9.5, 8.5, 7.0, 5.4, 4.0, 2.9, 2.1, 1.55, 1.2, 0.98, 0.92, 0.92, 0.98, 1.1, 1.22, 1.3, 1.35]
L_04 = [0.08, 0.8, 2.2, 4.1, 6.0, 7.4, 7.78, 7.6, 6.9, 5.85, 4.7, 3.6, 2.7, 2.0, 1.52, 1.2, 1.0, 0.95, 0.98, 1.05, 1.18, 1.3, 1.38, 1.42]
L_03 = [0.03, 0.3, 0.9, 1.8, 2.8, 3.65, 4.2, 4.38, 4.35, 4.1, 3.7, 3.2, 2.7, 2.2, 1.78, 1.45, 1.18, 1.08, 1.08, 1.15, 1.28, 1.4, 1.46, 1.5]
L_02 = [0.01, 0.1, 0.35, 0.8, 1.35, 1.9, 2.35, 2.65, 2.78, 2.78, 2.65, 2.45, 2.2, 1.9, 1.65, 1.42, 1.2, 1.12, 1.12, 1.2, 1.35, 1.48, 1.55, 1.6]
L_01 = [0.0, 0.04, 0.15, 0.38, 0.7, 1.0, 1.28, 1.45, 1.49, 1.48, 1.42, 1.35, 1.25, 1.15, 1.05, 0.98, 0.92, 0.92, 0.98, 1.08, 1.2, 1.32, 1.38, 1.42]
L_PURE = [0.3, 2.5, 6.2, 10.5, 14.2, 16.35, 16.0, 13.8, 10.2, 7.3, 4.7, 3.0, 1.95, 1.3, 0.9, 0.63, 0.45, 0.38, 0.32, 0.28, 0.27, 0.26, 0.26, 0.26]
L_TBAB = [0.0, 0.02, 0.08, 0.2, 0.38, 0.56, 0.72, 0.84, 0.9, 0.91, 0.9, 0.87, 0.82, 0.78, 0.75, 0.73, 0.73, 0.75, 0.8, 0.9, 1.02, 1.12, 1.18, 1.2]

# panel -> (r grid, [x=0.9 ... x=0.1, pure DES], TBAB or None)
PANEL_DATA = {
    "a": (R_A, [A_09, A_08, A_07, A_06, A_05, A_04, A_03, A_02, A_01, A_PURE], None),
    "b": (R_B, [B_09, B_08, B_07, B_06, B_05, B_04, B_03, B_02, B_01, B_PURE], None),
    "c": (R_C, [C_09, C_08, C_07, C_06, C_05, C_04, C_03, C_02, C_01, C_PURE], None),
    "d": (R_DEF, [D_09, D_08, D_07, D_06, D_05, D_04, D_03, D_02, D_01, D_PURE], None),
    "e": (R_DEF, [E_09, E_08, E_07, E_06, E_05, E_04, E_03, E_02, E_01, E_PURE], None),
    "f": (R_DEF, [F_09, F_08, F_07, F_06, F_05, F_04, F_03, F_02, F_01, F_PURE], None),
    "g": (R_GHI, [G_09, G_08, G_07, G_06, G_05, G_04, G_03, G_02, G_01, G_PURE], G_TBAB),
    "h": (R_GHI, [H_09, H_08, H_07, H_06, H_05, H_04, H_03, H_02, H_01, H_PURE], H_TBAB),
    "i": (R_GHI, [I_09, I_08, I_07, I_06, I_05, I_04, I_03, I_02, I_01, I_PURE], I_TBAB),
    "j": (R_JKL, [J_09, J_08, J_07, J_06, J_05, J_04, J_03, J_02, J_01, J_PURE], J_TBAB),
    "k": (R_JKL, [K_09, K_08, K_07, K_06, K_05, K_04, K_03, K_02, K_01, K_PURE], K_TBAB),
    "l": (R_JKL, [L_09, L_08, L_07, L_06, L_05, L_04, L_03, L_02, L_01, L_PURE], L_TBAB),
}

# ---------------- layout / styling ----------------
W, H = 3780, 1758
FONT = "Liberation Sans Narrow, Arial Narrow, Roboto Condensed, Roboto, Liberation Sans, sans-serif"
COL_PX = [(144, 854), (1002, 1709), (1850, 2563), (2705, 3415)]
ROW_PX = [(40, 570), (570, 1101), (1101, 1630)]
COL_XRANGE = [[0.2, 0.7], [0.194, 0.6], [0.19, 0.6], [0.4, 0.8]]
# letter, col, row, ymax, major dtick, minor dtick
PANEL_SPECS = [
    ("a", 0, 0, 3.0, 1, 0.5), ("b", 0, 1, 4.7, 1, 0.5), ("c", 0, 2, 7.9, 1, 0.5),
    ("d", 1, 0, 18.0, 2, 1), ("e", 1, 1, 17.0, 2, 1), ("f", 1, 2, 18.9, 2, 1),
    ("g", 2, 0, 13.0, 2, 1), ("h", 2, 1, 15.9, 2, 1), ("i", 2, 2, 28.4, 3, 1.5),
    ("j", 3, 0, 9.0, 1, 0.5), ("k", 3, 1, 11.9, 2, 1), ("l", 3, 2, 18.0, 2, 1),
]
LETTER_DX = [51, 55, 52, 46]
YTITLE_X = [48, 882, 1735, 2606]
YTITLE_Y = [333, 862, 1392]
XTITLE_X = [503, 1358, 2212, 3063]


def px(x):
    return x / W


def py(y):
    return 1 - y / H


fig = go.Figure()
layout = dict(
    width=W, height=H, autosize=False,
    margin=dict(l=0, r=0, t=0, b=0, pad=0),
    paper_bgcolor="white", plot_bgcolor="white",
    showlegend=False,
    font=dict(family=FONT, size=34, color="#222222"),
)
annotations = []
shapes = []

for idx, (letter, col, row, ymax, dtk, mdtk) in enumerate(PANEL_SPECS):
    n = idx + 1
    xa = "x" if n == 1 else f"x{n}"
    ya = "y" if n == 1 else f"y{n}"
    r, curves, tbab = PANEL_DATA[letter]
    for k, vals in enumerate(curves):
        fig.add_trace(go.Scatter(
            x=r, y=vals, mode="lines", xaxis=xa, yaxis=ya,
            name=SERIES_NAMES[k], hoverinfo="skip",
            line=dict(color=SERIES_COLORS[k], width=4, shape="spline", smoothing=0.7)))
    if tbab is not None:
        fig.add_trace(go.Scatter(
            x=r, y=tbab, mode="lines", xaxis=xa, yaxis=ya,
            name=SERIES_NAMES[10], hoverinfo="skip",
            line=dict(color="#000000", width=4.5, dash="4px,9px", shape="spline", smoothing=0.7)))

    x0, x1 = COL_PX[col]
    y0, y1 = ROW_PX[row]
    bottom = row == 2
    tickdir = "outside" if bottom else "inside"
    layout[f"xaxis{'' if n == 1 else n}"] = dict(
        domain=[px(x0), px(x1)], range=COL_XRANGE[col], anchor=ya,
        showgrid=False, zeroline=False, showline=True, linecolor="#1a1a1a",
        linewidth=4, mirror=True,
        ticks=tickdir, ticklen=9, tickwidth=3, tickcolor="#1a1a1a",
        tick0=0.2, dtick=0.1, tickformat=".1f",
        minor=dict(ticks=tickdir, dtick=0.05, ticklen=9, tickwidth=3, tickcolor="#1a1a1a"),
        showticklabels=bottom,
        tickfont=dict(family=FONT, size=34, color="#333333"),
    )
    layout[f"yaxis{'' if n == 1 else n}"] = dict(
        domain=[py(y1), py(y0)], range=[0, ymax], anchor=xa,
        showgrid=False, zeroline=False, showline=True, linecolor="#1a1a1a",
        linewidth=4, mirror=True,
        ticks="outside", ticklen=10, tickwidth=3, tickcolor="#1a1a1a",
        tick0=0, dtick=dtk,
        minor=dict(ticks="outside", dtick=mdtk, ticklen=6, tickwidth=3, tickcolor="#1a1a1a"),
        tickfont=dict(family=FONT, size=34, color="#333333"),
    )
    # panel letter
    annotations.append(dict(
        text=f"({letter})", xref="paper", yref="paper",
        x=px(x1 - LETTER_DX[col]), y=py(y0 + 50), xanchor="center", yanchor="middle",
        showarrow=False, font=dict(family=FONT, size=48, color="#222222")))
    # y title
    annotations.append(dict(
        text="g (r)", xref="paper", yref="paper", textangle=-90,
        x=px(YTITLE_X[col]), y=py(YTITLE_Y[row]), xanchor="center", yanchor="middle",
        showarrow=False, font=dict(family=FONT, size=44, color="#333333")))
    if bottom:
        annotations.append(dict(
            text="r / nm", xref="paper", yref="paper",
            x=px(XTITLE_X[col]), y=py(1725), xanchor="center", yanchor="middle",
            showarrow=False, font=dict(family=FONT, size=46, color="#333333")))

# ---------------- legend (drawn by hand, like the original) ----------------
LEG_Y = [572, 634, 695, 757, 819, 880, 941, 1002, 1064, 1126, 1186]
for k in range(11):
    yl = LEG_Y[k]
    if k < 10:
        shapes.append(dict(type="line", xref="paper", yref="paper",
                           x0=px(3436), x1=px(3528), y0=py(yl), y1=py(yl),
                           line=dict(color=SERIES_COLORS[k], width=5)))
        tx = 3538 if k < 9 else 3556
        ty = yl + 8 if k < 9 else yl
    else:
        shapes.append(dict(type="line", xref="paper", yref="paper",
                           x0=px(3434), x1=px(3512), y0=py(yl), y1=py(yl),
                           line=dict(color="#000000", width=5, dash="4px,9px")))
        tx, ty = 3522, yl + 7
    annotations.append(dict(
        text=SERIES_NAMES[k], xref="paper", yref="paper",
        x=px(tx), y=py(ty), xanchor="left", yanchor="middle",
        showarrow=False, font=dict(family=FONT, size=41, color="#333333")))

layout["annotations"] = annotations
layout["shapes"] = shapes
fig.update_layout(**layout)
fig.write_html("out.html")
